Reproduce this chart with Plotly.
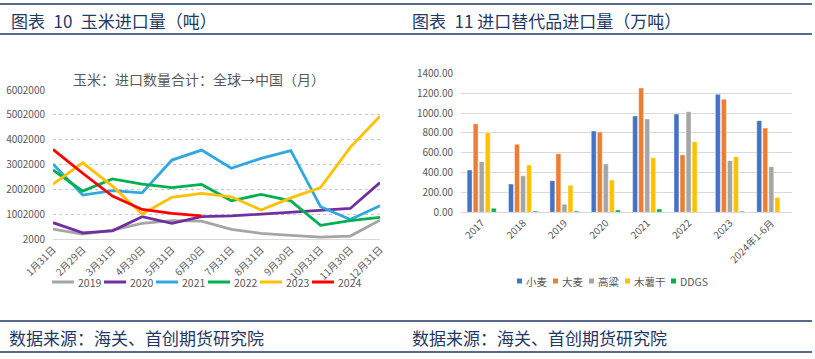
import plotly.graph_objects as go

W, H = 815, 359
FONT = "Noto Sans CJK SC"
NAVY = "#1F3864"
AXIS_GRAY = "#595959"

# ---------------- Left chart data (吨) ----------------
months = ["1月31日", "2月29日", "3月31日", "4月30日", "5月31日", "6月30日",
          "7月31日", "8月31日", "9月30日", "10月31日", "11月30日", "12月31日"]
corn_2019 = [400000, 200000, 360000, 630000, 740000, 720000, 390000, 230000, 150000, 80000, 120000, 760000]
corn_2020 = [660000, 250000, 330000, 900000, 630000, 900000, 930000, 1000000, 1070000, 1140000, 1230000, 2270000]
corn_2021 = [3020000, 1770000, 1950000, 1860000, 3180000, 3580000, 2850000, 3250000, 3560000, 1300000, 790000, 1340000]
corn_2022 = [2780000, 1930000, 2420000, 2210000, 2070000, 2200000, 1540000, 1800000, 1540000, 550000, 740000, 870000]
corn_2023 = [2210000, 3070000, 2130000, 1010000, 1680000, 1840000, 1700000, 1170000, 1660000, 2070000, 3690000, 4950000]
corn_2024 = [3610000, 2650000, 1730000, 1190000, 1030000, 930000]
corn_years = ["2019", "2020", "2021", "2022", "2023", "2024"]
corn_colors = ["#A5A5A5", "#7030A0", "#2EA8DF", "#00B050", "#FFC000", "#FF0000"]
corn_series = [corn_2019, corn_2020, corn_2021, corn_2022, corn_2023, corn_2024]
left_yticks = [2000, 1002000, 2002000, 3002000, 4002000, 5002000, 6002000]

# ---------------- Right chart data (万吨) ----------------
years = ["2017", "2018", "2019", "2020", "2021", "2022", "2023", "2024年1-6月"]
wheat = [426, 285, 319, 819, 970, 990, 1188, 923]
barley = [890, 685, 590, 809, 1252, 577, 1138, 850]
sorghum = [510, 369, 80, 487, 940, 1013, 520, 460]
cassava = [802, 477, 272, 325, 550, 711, 560, 148]
ddgs = [40, 12, 12, 23, 33, 0, 10, 0]
sub_names = ["小麦", "大麦", "高粱", "木薯干", "DDGS"]
sub_colors = ["#4472C4", "#ED7D31", "#A5A5A5", "#FFC000", "#00B050"]
sub_series = [wheat, barley, sorghum, cassava, ddgs]


def pxx(x):
    return x / W


def pxy(y):
    return 1 - y / H


fig = go.Figure()

for name, vals, col in zip(corn_years, corn_series, corn_colors):
    fig.add_trace(go.Scatter(
        x=months[:len(vals)], y=vals, name=name, mode="lines",
        line=dict(color=col, width=2.8), xaxis="x", yaxis="y", showlegend=False,
    ))

for name, vals, col in zip(sub_names, sub_series, sub_colors):
    fig.add_trace(go.Bar(
        x=years, y=vals, name=name,
        marker=dict(color=col, line=dict(color="rgba(255,255,255,0.7)", width=0.6)),
        xaxis="x2", yaxis="y2", showlegend=False,
    ))

SP = "\u2002"
annotations = [
    dict(text="图表" + SP + "10" + SP + "玉米进口量（吨）", x=pxx(9), y=pxy(20), xref="paper", yref="paper",
         xanchor="left", yanchor="middle", showarrow=False, font=dict(family=FONT, size=17, color=NAVY)),
    dict(text="图表" + SP + "11 进口替代品进口量（万吨）", x=pxx(410), y=pxy(20), xref="paper", yref="paper",
         xanchor="left", yanchor="middle", showarrow=False, font=dict(family=FONT, size=17, color=NAVY)),
    dict(text="数据来源：海关、首创期货研究院", x=pxx(7), y=pxy(337), xref="paper", yref="paper",
         xanchor="left", yanchor="middle", showarrow=False, font=dict(family=FONT, size=17, color=NAVY)),
    dict(text="数据来源：海关、首创期货研究院", x=pxx(410), y=pxy(337), xref="paper", yref="paper",
         xanchor="left", yanchor="middle", showarrow=False, font=dict(family=FONT, size=17, color=NAVY)),
    dict(text="玉米：进口数量合计：全球→中国（月）", x=pxx(199), y=pxy(79), xref="paper", yref="paper",
         xanchor="center", yanchor="middle", showarrow=False, font=dict(family=FONT, size=14, color=AXIS_GRAY)),
]

shapes = []
for yy in [4, 34, 321, 352]:
    shapes.append(dict(type="line", xref="paper", yref="paper", x0=0, x1=pxx(812), y0=pxy(yy), y1=pxy(yy),
                       line=dict(color=NAVY, width=1.5)))

# Manual legend, left chart (line swatches)
for i, (name, col) in enumerate(zip(corn_years, corn_colors)):
    x0 = 52 + 52 * i
    shapes.append(dict(type="line", xref="paper", yref="paper", x0=pxx(x0), x1=pxx(x0 + 22),
                       y0=pxy(282), y1=pxy(282), line=dict(color=col, width=3)))
    annotations.append(dict(text=name, x=pxx(x0 + 24), y=pxy(282), xref="paper", yref="paper",
                            xanchor="left", yanchor="middle", showarrow=False,
                            font=dict(family=FONT, size=10.5, color=AXIS_GRAY)))

# Manual legend, right chart (square swatches)
sq_x = [517, 553, 589, 625, 671]
for name, col, x0 in zip(sub_names, sub_colors, sq_x):
    shapes.append(dict(type="rect", xref="paper", yref="paper", x0=pxx(x0), x1=pxx(x0 + 5),
                       y0=pxy(283.5), y1=pxy(278.5), fillcolor=col, line=dict(width=0)))
    annotations.append(dict(text=name, x=pxx(x0 + 7), y=pxy(281), xref="paper", yref="paper",
                            xanchor="left", yanchor="middle", showarrow=False,
                            font=dict(family=FONT, size=10.5, color=AXIS_GRAY)))

fig.update_layout(
    width=W, height=H, margin=dict(l=0, r=0, t=0, b=0, autoexpand=False),
    paper_bgcolor="white", plot_bgcolor="white",
    font=dict(family=FONT, color=AXIS_GRAY),
    annotations=annotations, shapes=shapes, showlegend=False,
    barmode="group", bargap=0.27, bargroupgap=0.18,
    xaxis=dict(domain=[pxx(53), pxx(380)], anchor="y", type="category", range=[0, 11],
               categoryorder="array", categoryarray=months,
               showgrid=False, showline=True, linecolor="#D9D9D9", linewidth=1,
               tickangle=-45, tickfont=dict(size=10, color=AXIS_GRAY), ticks=""),
    yaxis=dict(domain=[pxy(239), pxy(90)], anchor="x", range=[2000, 6002000],
               tickvals=left_yticks, ticktext=[str(v) for v in left_yticks],
               showgrid=True, gridcolor="#C8C8C8", griddash="dot", gridwidth=1, zeroline=False,
               tickfont=dict(size=10, color=AXIS_GRAY), ticks="outside", ticklen=5,
               tickcolor="rgba(0,0,0,0)"),
    xaxis2=dict(domain=[pxx(461), pxx(792)], anchor="y2", type="category",
                showgrid=False, showline=True, linecolor="#D9D9D9", linewidth=1,
                tickangle=-45, tickfont=dict(size=10, color=AXIS_GRAY), ticks=""),
    yaxis2=dict(domain=[pxy(212.3), pxy(73.3)], anchor="x2", range=[0, 1400], dtick=200,
                tickformat=".2f", showgrid=True, gridcolor="#D9D9D9", gridwidth=1, zeroline=False,
                tickfont=dict(size=10, color=AXIS_GRAY), ticks="outside", ticklen=5,
                tickcolor="rgba(0,0,0,0)"),
)

fig.write_html("out.html", config={"displayModeBar": False},
               post_script="document.body.style.margin='0';document.body.style.overflow='hidden';")
